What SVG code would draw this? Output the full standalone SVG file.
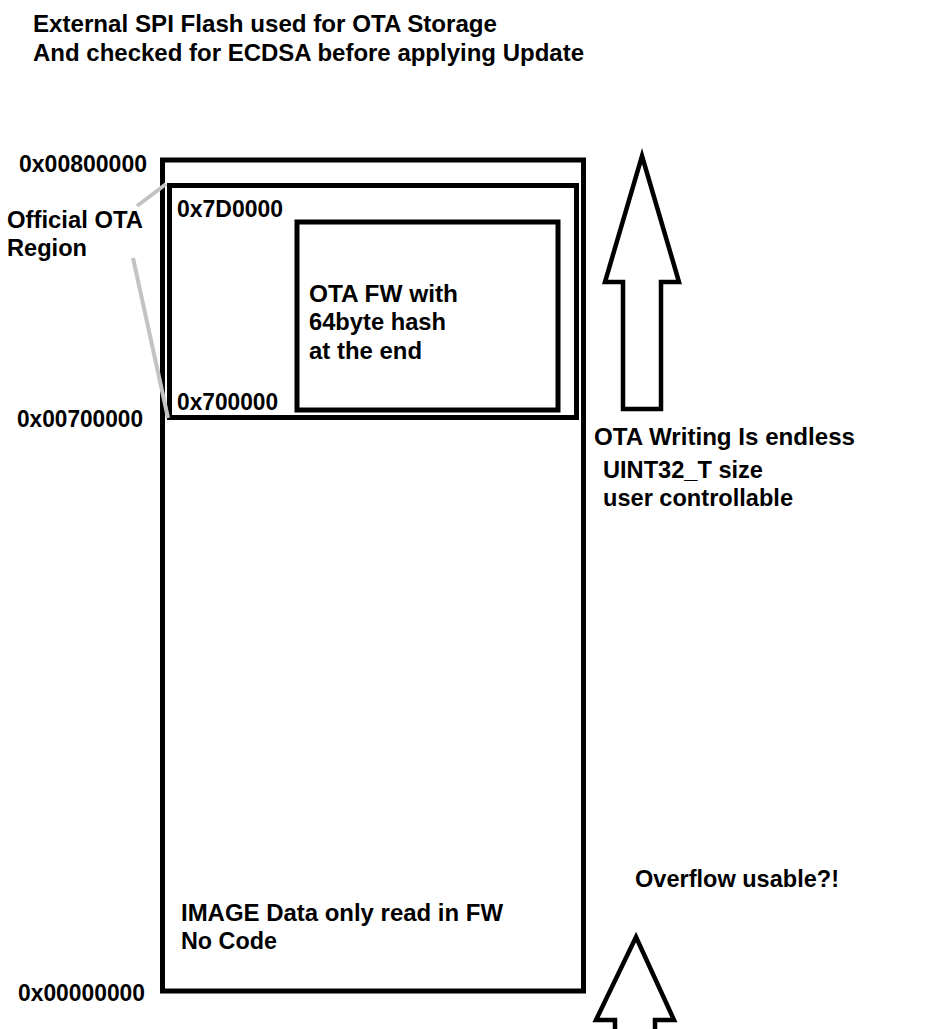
<svg xmlns="http://www.w3.org/2000/svg" width="931" height="1029" viewBox="0 0 931 1029">
<style>
text{font-family:"Liberation Sans",Arial,sans-serif;font-weight:bold;font-size:24px;fill:#000}
.box{fill:none;stroke:#000}
.arrow{fill:#fff;stroke:#000;stroke-width:4.5;stroke-linejoin:miter}
.lead{stroke:#c3c3c3;stroke-width:4;fill:none}
</style>
<rect width="931" height="1029" fill="#fff"/>
<g id="title">
<text x="33" y="32" textLength="464" lengthAdjust="spacingAndGlyphs">External SPI Flash used for OTA Storage</text>
<text x="33" y="61" textLength="551" lengthAdjust="spacingAndGlyphs">And checked for ECDSA before applying Update</text>
</g>
<g id="flash">
<rect class="box" x="162.5" y="160" width="421" height="831" stroke-width="5"/>
<text x="19" y="172" textLength="128" lengthAdjust="spacingAndGlyphs">0x00800000</text>
<text x="17" y="427" textLength="126" lengthAdjust="spacingAndGlyphs">0x00700000</text>
<text x="18" y="1001" textLength="127" lengthAdjust="spacingAndGlyphs">0x00000000</text>
<text x="181" y="921" textLength="322" lengthAdjust="spacingAndGlyphs">IMAGE Data only read in FW</text>
<text x="181" y="949" textLength="96" lengthAdjust="spacingAndGlyphs">No Code</text>
</g>
<g id="ota-region">
<rect class="box" x="169.5" y="185.5" width="407" height="232" stroke-width="5"/>
<text x="177" y="217" textLength="106" lengthAdjust="spacingAndGlyphs">0x7D0000</text>
<text x="177" y="410" textLength="101" lengthAdjust="spacingAndGlyphs">0x700000</text>
</g>
<g id="ota-fw">
<rect class="box" x="297" y="222" width="261" height="188" stroke-width="5"/>
<text x="309" y="302" textLength="149" lengthAdjust="spacingAndGlyphs">OTA FW with</text>
<text x="309" y="330" textLength="137" lengthAdjust="spacingAndGlyphs">64byte hash</text>
<text x="309" y="359" textLength="113" lengthAdjust="spacingAndGlyphs">at the end</text>
</g>
<g id="label-official">
<text x="7" y="228" textLength="136" lengthAdjust="spacingAndGlyphs">Official OTA</text>
<text x="7" y="256" textLength="80" lengthAdjust="spacingAndGlyphs">Region</text>
</g>
<g id="arrow-up">
<polygon class="arrow" points="642,156 679,282 661,282 661,409 623,409 623,282 605,282"/>
<text x="594" y="445" textLength="261" lengthAdjust="spacingAndGlyphs">OTA Writing Is endless</text>
<text x="603" y="478" textLength="160" lengthAdjust="spacingAndGlyphs">UINT32_T size</text>
<text x="603" y="506" textLength="190" lengthAdjust="spacingAndGlyphs">user controllable</text>
</g>
<g id="arrow-bottom">
<polygon class="arrow" points="636,937 674,1020 655,1020 655,1040 615,1040 615,1020 596,1020"/>
<text x="635" y="887" textLength="204" lengthAdjust="spacingAndGlyphs">Overflow usable?!</text>
</g>
<g id="connectors">
<line class="lead" x1="166" y1="184" x2="137" y2="206"/>
<line class="lead" x1="133" y1="258" x2="168" y2="418"/>
</g>
</svg>
